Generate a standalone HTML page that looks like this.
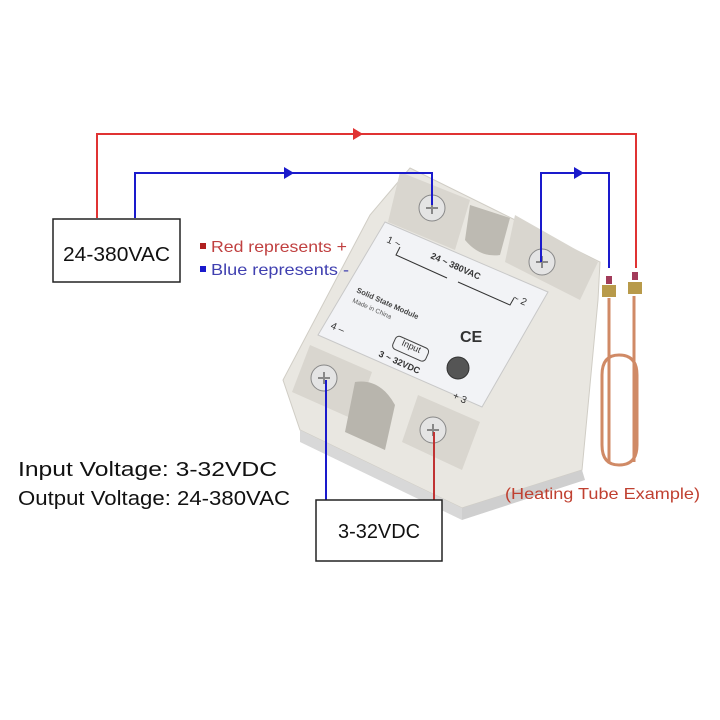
<!DOCTYPE html>
<html><head><meta charset="utf-8"><style>
html,body{margin:0;padding:0;background:#fff;}
svg{display:block;font-family:"Liberation Sans",sans-serif;}
</style></head><body>
<svg width="720" height="720" viewBox="0 0 720 720" xmlns="http://www.w3.org/2000/svg">
<rect width="720" height="720" fill="#fff"/>
<!-- relay body -->
<polygon points="410,168 600,262 598,300 582,470 462,508 300,430 283,380 370,215" fill="#e9e7e1" stroke="#d0cdc5"/>
<polygon points="300,430 462,508 462,520 300,442" fill="#d8d8d8"/>
<polygon points="582,470 462,508 462,520 585,480" fill="#cfcfcf"/>
<!-- top terminal blocks -->
<polygon points="400,172 470,200 455,250 388,222" fill="#d9d6cf"/>
<polygon points="515,215 598,262 580,300 505,262" fill="#d9d6cf"/>
<path d="M470,205 L510,218 L500,255 Q480,258 465,240 Z" fill="#bdbab2"/>
<circle cx="432" cy="208" r="13" fill="#e4e4e4" stroke="#888"/>
<circle cx="542" cy="262" r="13" fill="#e4e4e4" stroke="#888"/>
<path d="M426,208 h12 M432,202 v12 M536,262 h12 M542,256 v12" stroke="#888" stroke-width="2"/>
<!-- label panel -->
<polygon points="385,222 548,292 482,407 318,335" fill="#f2f3f6" stroke="#c8c8c8"/>
<polyline points="400,247 396,255 447,278" fill="none" stroke="#333" stroke-width="1"/>
<polyline points="458,282 510,305 514,298" fill="none" stroke="#333" stroke-width="1"/>
<text x="0" y="0" font-size="9" fill="#333" font-weight="bold" transform="translate(430,258) rotate(24)">24 ~ 380VAC</text>
<text x="0" y="0" font-size="10" fill="#333" transform="translate(386,242) rotate(24)">1 ~</text>
<text x="0" y="0" font-size="10" fill="#333" transform="translate(512,300) rotate(24)">~ 2</text>
<text x="0" y="0" font-size="7.5" fill="#444" font-weight="bold" transform="translate(356,292) rotate(24)">Solid State Module</text>
<text x="0" y="0" font-size="6.5" fill="#555" transform="translate(352,302) rotate(24)">Made in China</text>
<text x="460" y="342" font-size="16" fill="#333" font-weight="bold">CE</text>
<text x="0" y="0" font-size="10" fill="#333" transform="translate(330,328) rotate(24)">4 –</text>
<rect x="0" y="0" width="36" height="14" rx="4" fill="none" stroke="#444" transform="translate(397,335) rotate(24)"/>
<text x="0" y="0" font-size="9" fill="#333" transform="translate(401,345) rotate(24)">Input</text>
<text x="0" y="0" font-size="9" fill="#333" font-weight="bold" transform="translate(378,356) rotate(24)">3 ~ 32VDC</text>
<circle cx="458" cy="368" r="11" fill="#555" stroke="#333"/>
<text x="0" y="0" font-size="10" fill="#333" transform="translate(452,398) rotate(24)">+ 3</text>
<!-- bottom terminal blocks -->
<polygon points="310,345 372,372 355,420 292,392" fill="#d9d6cf"/>
<polygon points="418,395 480,422 462,470 402,442" fill="#d9d6cf"/>
<path d="M355,382 Q380,378 395,405 L385,450 L345,432 Z" fill="#b8b5ad"/>
<circle cx="324" cy="378" r="13" fill="#e4e4e4" stroke="#888"/>
<circle cx="433" cy="430" r="13" fill="#e4e4e4" stroke="#888"/>
<path d="M318,378 h12 M324,372 v12 M427,430 h12 M433,424 v12" stroke="#888" stroke-width="2"/>
<!-- heating tube -->
<g fill="none" stroke="#d08a66" stroke-width="3">
<line x1="609" y1="298" x2="609" y2="462"/>
<line x1="634" y1="296" x2="634" y2="462"/>
<path d="M602,375 Q602,355 619,355 Q637,355 637,375 L637,445 Q637,465 619,465 Q602,465 602,445 Z"/>
</g>
<rect x="602" y="285" width="14" height="12" fill="#b89a4a"/>
<rect x="628" y="282" width="14" height="12" fill="#b89a4a"/>
<rect x="606" y="276" width="6" height="8" fill="#a23b5a"/>
<rect x="632" y="272" width="6" height="8" fill="#a23b5a"/>
<!-- wires -->
<g fill="none" stroke-width="2">
<polyline points="97,218 97,134 636,134 636,268" stroke="#e03333"/>
<polyline points="135,218 135,173 432,173 432,205" stroke="#1a1acc"/>
<polyline points="541,262 541,173 609,173 609,268" stroke="#1a1acc"/>
<polyline points="326,380 326,500" stroke="#1a1acc"/>
<polyline points="434,432 434,500" stroke="#c03333"/>
</g>
<polygon points="353,128 363,134 353,140" fill="#e03333"/>
<polygon points="284,167 294,173 284,179" fill="#1a1acc"/>
<polygon points="574,167 584,173 574,179" fill="#1a1acc"/>
<!-- boxes -->
<rect x="53" y="219" width="127" height="63" fill="#fff" stroke="#222" stroke-width="1.5"/>
<text x="63" y="261" font-size="20" fill="#111" textLength="107" lengthAdjust="spacingAndGlyphs">24-380VAC</text>
<rect x="316" y="500" width="126" height="61" fill="#fff" stroke="#222" stroke-width="1.5"/>
<text x="338" y="538" font-size="20" fill="#111" textLength="82" lengthAdjust="spacingAndGlyphs">3-32VDC</text>
<!-- legend -->
<rect x="200" y="243" width="6" height="6" fill="#b02020"/>
<text x="211" y="252" font-size="16" fill="#c04040" textLength="136" lengthAdjust="spacingAndGlyphs">Red represents +</text>
<rect x="200" y="266" width="6" height="6" fill="#1a1acc"/>
<text x="211" y="275" font-size="16" fill="#4040b0" textLength="138" lengthAdjust="spacingAndGlyphs">Blue represents -</text>
<text x="18" y="476" font-size="20" fill="#111" textLength="259" lengthAdjust="spacingAndGlyphs">Input Voltage: 3-32VDC</text>
<text x="18" y="505" font-size="20" fill="#111" textLength="272" lengthAdjust="spacingAndGlyphs">Output Voltage: 24-380VAC</text>
<text x="505" y="499" font-size="16" fill="#c04030" textLength="195" lengthAdjust="spacingAndGlyphs">(Heating Tube Example)</text>
</svg>
</body></html>
